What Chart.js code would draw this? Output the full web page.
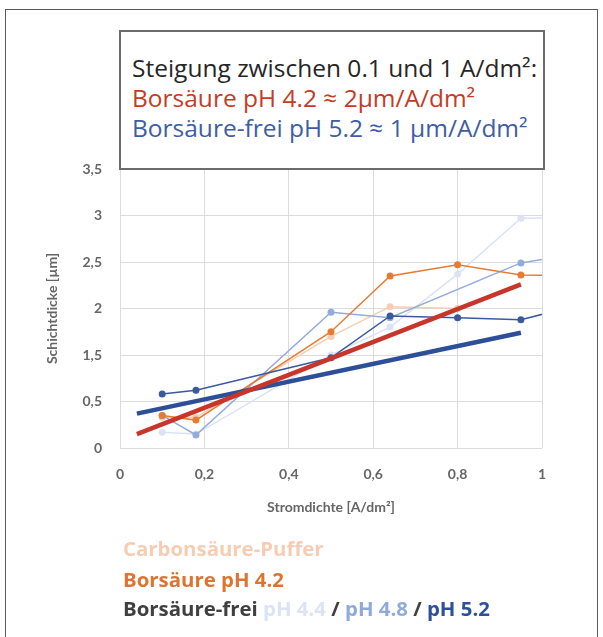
<!DOCTYPE html>
<html>
<head>
<meta charset="utf-8">
<script src="https://cdn.jsdelivr.net/npm/chart.js@4.4.1/dist/chart.umd.min.js"></script>
<style>
  body { margin: 0; background: #fff; font-family: "Open Sans", Lato, sans-serif; }
  #wrap { position: relative; width: 603px; height: 637px; overflow: hidden; }
  #frame { position: absolute; left: 5px; top: 9px; width: 591px; height: 700px; border: 1.5px solid #5a5a5a; }
  #chart { position: absolute; left: 0; top: 0; }
  #note { position: absolute; left: 119px; top: 30px; width: 422px; height: 136px; border: 2px solid #6b6b6b; background: #fff; }
  .nl { position: absolute; left: 11px; font-size: 24.5px; white-space: nowrap; letter-spacing: 0; }
  .lg { position: absolute; left: 123px; font-size: 20.4px; font-weight: bold; white-space: nowrap; letter-spacing: 0; }
</style>
</head>
<body>
<div id="wrap">
  <div id="frame"></div>
  <canvas id="chart" width="603" height="637"></canvas>
  <div id="note">
    <div class="nl" style="top:19px;color:#262626">Steigung zwischen 0.1 und 1 A/dm²:</div>
    <div class="nl" style="top:49px;color:#c53b26">Borsäure pH 4.2 ≈ 2µm/A/dm²</div>
    <div class="nl" style="top:79px;color:#3d5da6">Borsäure-frei pH 5.2 ≈ 1 µm/A/dm²</div>
  </div>
  <div class="lg" style="top:534px;color:#f6cdb2">Carbonsäure-Puffer</div>
  <div class="lg" style="top:565px;color:#dd7431">Borsäure pH 4.2</div>
  <div class="lg" style="top:594px;color:#404040">Borsäure-frei <span style="color:#dbe4f4">pH 4.4</span> / <span style="color:#8eaadb">pH 4.8</span> / <span style="color:#2f4f9a">pH 5.2</span></div>
</div>
<script>
// values (x: A/dm², y: µm)
const carbonX = [0.1, 0.18, 0.5, 0.64, 0.8];
const carbonY = [0.33, 0.33, 1.2, 1.52, 1.5];

const borX = [0.1, 0.18, 0.5, 0.64, 0.8, 0.95, 1.1];
const borY = [0.35, 0.3, 1.25, 1.85, 1.97, 1.86, 1.85];

const ph44X = [0.1, 0.18, 0.5, 0.64, 0.8, 0.95, 1.1];
const ph44Y = [0.17, 0.15, 1.0, 1.3, 1.87, 2.47, 2.48];

const ph48X = [0.1, 0.18, 0.5, 0.64, 0.95, 1.1];
const ph48Y = [0.35, 0.14, 1.46, 1.4, 1.99, 2.1];

const ph52X = [0.1, 0.18, 0.5, 0.64, 0.8, 0.95, 1.1];
const ph52Y = [0.58, 0.62, 0.97, 1.42, 1.4, 1.38, 1.55];

// linear fits drawn in the chart
const fitX = [0.04, 0.95];
const fitBorY = [0.15, 1.76];
const fitFreiY = [0.37, 1.24];

const xTicks = ['0', '0,2', '0,4', '0,6', '0,8', '1'];
const yTicks = ['0', '0,5', '1,5', '2', '2,5', '3', '3,5'];

function pts(xs, ys) {
  return xs.map(function (x, i) { return { x: x, y: ys[i] }; });
}

function series(xs, ys, color, r) {
  return {
    data: pts(xs, ys),
    showLine: true,
    borderColor: color,
    backgroundColor: color,
    borderWidth: 1.5,
    pointRadius: r,
    pointBorderWidth: 0,
    clip: 0
  };
}

var fitBor = series(fitX, fitBorY, '#c8352b', 0);
fitBor.borderWidth = 4.5;
var fitFrei = series(fitX, fitFreiY, '#2c4f98', 0);
fitFrei.borderWidth = 4.5;

var tickFont = { family: 'Lato', size: 14, weight: 'bold' };

new Chart(document.getElementById('chart'), {
  type: 'scatter',
  data: {
    datasets: [
      fitBor,
      fitFrei,
      series(ph52X, ph52Y, '#3b5a9e', 3.5),
      series(borX, borY, '#e57c36', 3.5),
      series(ph48X, ph48Y, '#93acdc', 3.5),
      series(carbonX, carbonY, '#f7cdb1', 3.5),
      series(ph44X, ph44Y, '#dbe3f3', 3.5)
    ]
  },
  options: {
    responsive: false,
    animation: false,
    events: [],
    layout: { padding: { left: 0, top: 169, right: 61, bottom: 109 } },
    plugins: { legend: { display: false }, tooltip: { enabled: false } },
    scales: {
      x: {
        type: 'linear', min: 0, max: 1,
        afterFit: function (s) { s.height = 80; },
        border: { display: false },
        grid: { color: '#dcdcdc', drawTicks: false },
        ticks: {
          stepSize: 0.2, padding: 18, color: '#666', font: tickFont,
          callback: function (v, i) { return xTicks[i]; }
        },
        title: {
          display: true, text: 'Stromdichte [A/dm²]', color: '#666',
          font: tickFont, padding: { bottom: 12 }
        }
      },
      y: {
        type: 'linear', min: 0, max: 3,
        afterFit: function (s) { s.width = 120; },
        border: { display: false },
        grid: { color: '#dcdcdc', drawTicks: false },
        ticks: {
          stepSize: 0.5, padding: 18, color: '#666', font: tickFont,
          callback: function (v, i) { return yTicks[i]; }
        },
        title: {
          display: true, text: 'Schichtdicke [µm]', color: '#666',
          font: tickFont, padding: { top: 44 }
        }
      }
    }
  }
});
</script>
</body>
</html>
